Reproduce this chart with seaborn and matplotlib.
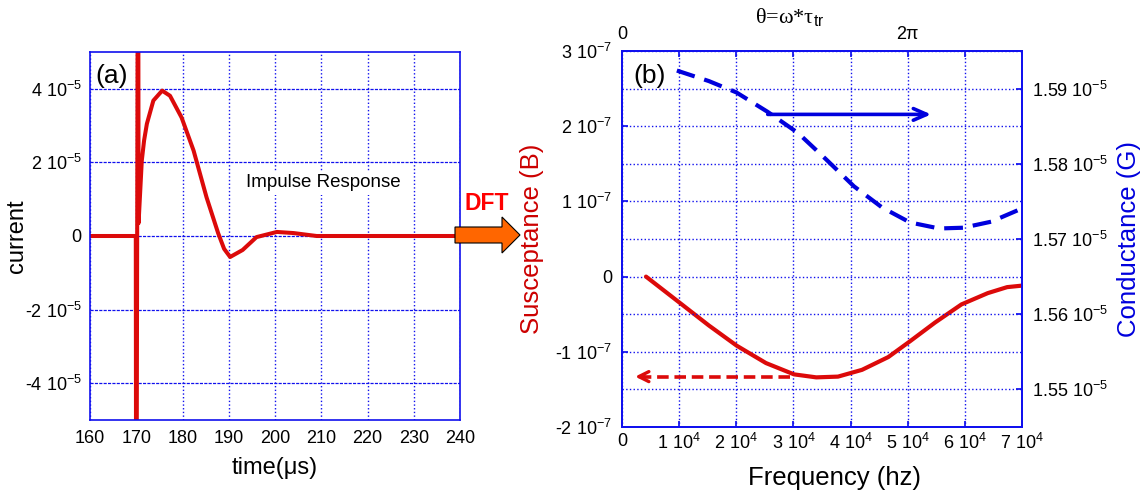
import matplotlib
matplotlib.use("Agg")
import matplotlib.pyplot as plt
from matplotlib.patches import FancyArrow
import seaborn as sns

# ---------------- data: panel (a) impulse response ----------------
time_us = [160, 169.9, 170.0, 170.4, 170.5, 171.2, 171.7, 172.3, 173.7, 175.6, 177.3,
           179.8, 182.4, 185.2, 187.7, 189.0, 190.3, 193.0, 196.0, 200.4, 204.0,
           209.0, 215.0, 220.0, 225.0, 230.0, 240.0]
current = [0, 0, -1.2e-4, 1.2e-4, 0.35e-5, 2.05e-5, 2.6e-5, 3.05e-5, 3.68e-5, 3.95e-5, 3.81e-5,
           3.22e-5, 2.32e-5, 1.05e-5, 0.08e-5, -0.35e-5, -0.57e-5, -0.38e-5, -0.03e-5, 0.11e-5, 0.08e-5,
           0.0, 0.0, 0.0, 0.0, 0.0, 0.0]

# ---------------- data: panel (b) susceptance / conductance ----------------
freq_B = [0.42e4, 1.03e4, 1.52e4, 2.01e4, 2.52e4, 3.01e4, 3.40e4, 3.78e4, 4.20e4,
          4.66e4, 5.04e4, 5.48e4, 5.94e4, 6.40e4, 6.74e4, 7.0e4]
susceptance = [0.0, -0.36e-7, -0.65e-7, -0.92e-7, -1.15e-7, -1.30e-7, -1.34e-7, -1.33e-7, -1.24e-7,
               -1.07e-7, -0.86e-7, -0.61e-7, -0.37e-7, -0.22e-7, -0.14e-7, -0.12e-7]

freq_G = [0.96e4, 1.52e4, 2.0e4, 2.55e4, 3.08e4, 3.57e4, 4.06e4, 4.55e4, 5.04e4,
          5.55e4, 5.97e4, 6.46e4, 6.95e4]
conductance = [1.5924e-5, 1.5910e-5, 1.5895e-5, 1.5869e-5, 1.5841e-5, 1.5806e-5, 1.5770e-5,
               1.5742e-5, 1.5722e-5, 1.5714e-5, 1.5715e-5, 1.5723e-5, 1.5739e-5]

# ---------------- ticks / labels ----------------
a_xticks = [160, 170, 180, 190, 200, 210, 220, 230, 240]
a_yticks = [-4e-5, -2e-5, 0, 2e-5, 4e-5]
a_yticklabels = ['-4 10$^{-5}$', '-2 10$^{-5}$', '0', '2 10$^{-5}$', '4 10$^{-5}$']

b_xticks = [0, 1e4, 2e4, 3e4, 4e4, 5e4, 6e4, 7e4]
b_xticklabels = ['0'] + ['%d 10$^{4}$' % i for i in range(1, 8)]
b_yticks = [-2e-7, -1e-7, 0, 1e-7, 2e-7, 3e-7]
b_yticklabels = ['-2 10$^{-7}$', '-1 10$^{-7}$', '0', '1 10$^{-7}$', '2 10$^{-7}$', '3 10$^{-7}$']
g_yticks = [1.55e-5, 1.56e-5, 1.57e-5, 1.58e-5, 1.59e-5]
g_yticklabels = ['1.55 10$^{-5}$', '1.56 10$^{-5}$', '1.57 10$^{-5}$', '1.58 10$^{-5}$', '1.59 10$^{-5}$']
top_ticklabels = ['0', '', '', '', '', '2π', '', '']

# annotation arrow positions (panel b, data units)
blue_arrow_y, blue_arrow_x0, blue_arrow_x1 = 2.157e-7, 2.55e4, 5.41e4
red_arrow_y, red_arrow_x0, red_arrow_x1 = -1.33e-7, 2.94e4, 0.23e4

# ---------------- style ----------------
sns.set_theme(style="white")
plt.rcParams['font.family'] = ['Liberation Sans', 'DejaVu Sans']
plt.rcParams['mathtext.fontset'] = 'custom'
plt.rcParams['mathtext.rm'] = 'Liberation Sans'
plt.rcParams['mathtext.sf'] = 'Liberation Sans'
plt.rcParams['mathtext.it'] = 'Liberation Sans:italic'
plt.rcParams['mathtext.bf'] = 'Liberation Sans:bold'
plt.rcParams['axes.unicode_minus'] = False
plt.rcParams['text.color'] = 'black'
plt.rcParams['axes.labelcolor'] = 'black'

RED = '#dc0a0a'
BLUE = '#0000dd'
GRID = '#1010ee'
W, H = 1148, 497

fig = plt.figure(figsize=(W / 100, H / 100), dpi=100)
axA = fig.add_axes([90 / W, 1 - 420 / H, 370 / W, 368 / H])
axB = fig.add_axes([622 / W, 1 - 427 / H, 400 / W, 376 / H])


def style_spines(ax):
    for s in ax.spines.values():
        s.set_color(GRID)
        s.set_linewidth(1.2)
        s.set_visible(True)


# ---------------- panel (a) ----------------
sns.lineplot(x=time_us, y=current, ax=axA, color=RED, linewidth=2.9,
             sort=False, estimator=None)
axA.set_xlim(160, 240)
axA.set_ylim(-5e-5, 5e-5)
axA.set_xticks(a_xticks)
axA.set_xticklabels([str(v) for v in a_xticks])
axA.set_yticks(a_yticks)
axA.set_yticklabels(a_yticklabels)
axA.tick_params(axis='both', direction='in', length=4, color=GRID, labelsize=13,
                labelcolor='black')
axA.tick_params(axis='x', pad=7)
axA.tick_params(axis='y', pad=6)
axA.xaxis.grid(True, color=GRID, linestyle=':', linewidth=1.0)
axA.yaxis.grid(True, color=GRID, linestyle=(0, (2.5, 1.0)), linewidth=0.9)
axA.set_axisbelow(True)
style_spines(axA)
axA.set_xlabel('time(μs)', fontsize=17, color='black')
axA.set_ylabel('current', fontsize=17, color='black')
axA.xaxis.set_label_coords(0.5, -0.10)
axA.yaxis.set_label_coords(-0.168, 0.5)
axA.text(210.5, 1.45e-5, 'Impulse Response', ha='center', va='center', fontsize=13.5,
         color='black', bbox=dict(fc='white', ec='none', pad=2.5), zorder=5)
fig.text(95 / W, 1 - 76 / H, '(a)', fontsize=19, ha='left', va='center', color='black')

# DFT arrow
fig.patches.append(FancyArrow(455 / W, 1 - 235 / H, 65 / W, 0, width=16 / H,
                              head_width=36 / H, head_length=18 / W,
                              length_includes_head=True, transform=fig.transFigure,
                              fc='#ff6600', ec='black', lw=0.8, figure=fig))
fig.text(487 / W, 1 - 203 / H, 'DFT', color='#ff0000', fontsize=16.5,
         fontweight='bold', ha='center', va='center')

# ---------------- panel (b) ----------------
axG = axB.twinx()
axT = axB.twiny()

sns.lineplot(x=freq_B, y=susceptance, ax=axB, color=RED, linewidth=3.0,
             sort=False, estimator=None)
sns.lineplot(x=freq_G, y=conductance, ax=axG, color=BLUE, linewidth=3.0,
             sort=False, estimator=None, dashes=False)
axG.lines[0].set_dashes((4.5, 2.4))

axB.set_xlim(0, 7e4)
axB.set_ylim(-2e-7, 3e-7)
axG.set_ylim(1.545e-5, 1.595e-5)
axT.set_xlim(0, 7e4)

axB.set_xticks(b_xticks)
axB.set_xticklabels(b_xticklabels)
axB.set_yticks(b_yticks)
axB.set_yticklabels(b_yticklabels)
axG.set_yticks(g_yticks)
axG.set_yticklabels(g_yticklabels)
axT.set_xticks(b_xticks)
axT.set_xticklabels(top_ticklabels)

for ax in (axB, axG, axT):
    ax.tick_params(direction='in', length=4, color=GRID, labelsize=13, labelcolor='black')
    style_spines(ax)
axB.tick_params(axis='x', pad=4)
axB.tick_params(axis='y', pad=7)
axG.tick_params(axis='y', pad=7)
axT.tick_params(axis='x', pad=6)

axB.xaxis.grid(True, color=GRID, linestyle=':', linewidth=1.0)
axB.yaxis.grid(True, color=GRID, linestyle=':', linewidth=1.0)
axG.yaxis.grid(True, color=GRID, linestyle=':', linewidth=1.0)
axB.set_axisbelow(True)
axG.set_axisbelow(True)
axT.grid(False)

axB.set_xlabel('Frequency (hz)', fontsize=18.5, color='black')
axB.set_ylabel('Susceptance (B)', fontsize=18.5, color='#cc0000')
axG.set_ylabel('Conductance (G)', fontsize=18.5, color=BLUE)
axB.xaxis.set_label_coords(0.53, -0.105)
axB.yaxis.set_label_coords(-0.195, 0.5)
axG.yaxis.set_label_coords(1.2375, 0.5)

# arrows
axB.annotate('', xy=(blue_arrow_x1, blue_arrow_y), xytext=(blue_arrow_x0, blue_arrow_y),
             arrowprops=dict(arrowstyle='->,head_length=0.8,head_width=0.35',
                             color=BLUE, lw=2.6, shrinkA=0, shrinkB=0))
axB.plot([red_arrow_x0, red_arrow_x1 + 1500], [red_arrow_y, red_arrow_y], color=RED,
         lw=2.6, dashes=(3.2, 1.6))
axB.annotate('', xy=(red_arrow_x1, red_arrow_y), xytext=(red_arrow_x1 + 1600, red_arrow_y),
             arrowprops=dict(arrowstyle='->,head_length=0.6,head_width=0.3',
                             color=RED, lw=2.4, shrinkA=0, shrinkB=0))

fig.text(633 / W, 1 - 76 / H, '(b)', fontsize=19, ha='left', va='center', color='black')
fig.text(790 / W, 1 - 18 / H, 'θ=ω*τ$_\\mathsf{tr}$', fontsize=16, ha='center', va='center',
         family='Liberation Serif', color='black')

fig.savefig('out.png', dpi=100)
